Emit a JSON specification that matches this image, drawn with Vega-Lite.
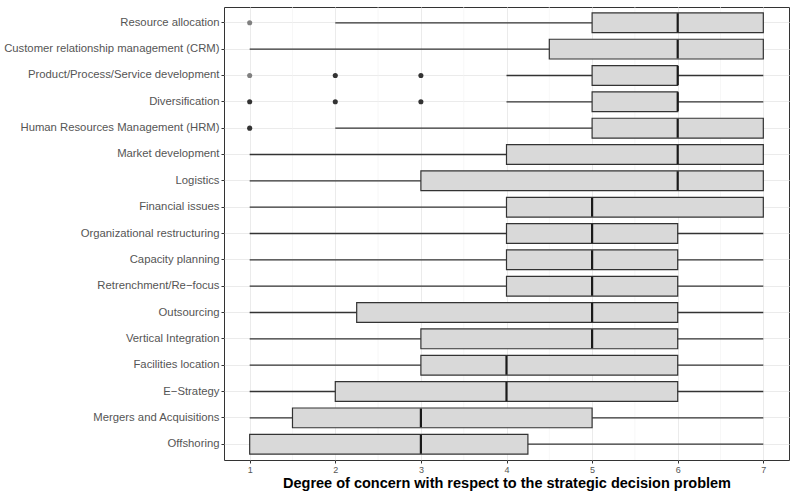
{
  "$schema": "https://vega.github.io/schema/vega-lite/v6.json",
  "width": 565,
  "height": 453,
  "autosize": {"type": "none"},
  "padding": {"left": 224, "top": 7, "right": 3, "bottom": 31},
  "background": "white",
  "config": {
    "font": "Liberation Sans",
    "view": {"stroke": "#333333", "strokeWidth": 1}
  },
  "datasets": {
    "boxes": [
      {"item": "Resource allocation", "lo": 2, "q1": 5, "med": 6, "q3": 7, "hi": 7},
      {"item": "Customer relationship management (CRM)", "lo": 1, "q1": 4.5, "med": 6, "q3": 7, "hi": 7},
      {"item": "Product/Process/Service development", "lo": 4, "q1": 5, "med": 6, "q3": 6, "hi": 7},
      {"item": "Diversification", "lo": 4, "q1": 5, "med": 6, "q3": 6, "hi": 7},
      {"item": "Human Resources Management (HRM)", "lo": 2, "q1": 5, "med": 6, "q3": 7, "hi": 7},
      {"item": "Market development", "lo": 1, "q1": 4, "med": 6, "q3": 7, "hi": 7},
      {"item": "Logistics", "lo": 1, "q1": 3, "med": 6, "q3": 7, "hi": 7},
      {"item": "Financial issues", "lo": 1, "q1": 4, "med": 5, "q3": 7, "hi": 7},
      {"item": "Organizational restructuring", "lo": 1, "q1": 4, "med": 5, "q3": 6, "hi": 7},
      {"item": "Capacity planning", "lo": 1, "q1": 4, "med": 5, "q3": 6, "hi": 7},
      {"item": "Retrenchment/Re−focus", "lo": 1, "q1": 4, "med": 5, "q3": 6, "hi": 7},
      {"item": "Outsourcing", "lo": 1, "q1": 2.25, "med": 5, "q3": 6, "hi": 7},
      {"item": "Vertical Integration", "lo": 1, "q1": 3, "med": 5, "q3": 6, "hi": 7},
      {"item": "Facilities location", "lo": 1, "q1": 3, "med": 4, "q3": 6, "hi": 7},
      {"item": "E−Strategy", "lo": 1, "q1": 2, "med": 4, "q3": 6, "hi": 7},
      {"item": "Mergers and Acquisitions", "lo": 1, "q1": 1.5, "med": 3, "q3": 5, "hi": 7},
      {"item": "Offshoring", "lo": 1, "q1": 1, "med": 3, "q3": 4.25, "hi": 7}
    ],
    "outliers": [
      {"item": "Resource allocation", "value": 1, "count": 1},
      {"item": "Product/Process/Service development", "value": 1, "count": 1},
      {"item": "Product/Process/Service development", "value": 2, "count": 2},
      {"item": "Product/Process/Service development", "value": 3, "count": 2},
      {"item": "Diversification", "value": 1, "count": 2},
      {"item": "Diversification", "value": 2, "count": 2},
      {"item": "Diversification", "value": 3, "count": 2},
      {"item": "Human Resources Management (HRM)", "value": 1, "count": 2}
    ]
  },
  "encoding": {
    "y": {
      "field": "item",
      "type": "nominal",
      "sort": null,
      "scale": {
        "domain": ["Resource allocation", "Customer relationship management (CRM)", "Product/Process/Service development", "Diversification", "Human Resources Management (HRM)", "Market development", "Logistics", "Financial issues", "Organizational restructuring", "Capacity planning", "Retrenchment/Re−focus", "Outsourcing", "Vertical Integration", "Facilities location", "E−Strategy", "Mergers and Acquisitions", "Offshoring"],
        "paddingInner": 0,
        "paddingOuter": 0.1
      },
      "axis": {
        "title": null,
        "domain": false,
        "ticks": true,
        "tickColor": "#333333",
        "tickSize": 3,
        "labelFontSize": 11.3,
        "labelColor": "#555555",
        "labelPadding": 2,
        "labelLimit": 0,
        "grid": true,
        "gridColor": "#EBEBEB",
        "gridWidth": 1
      }
    }
  },
  "layer": [
    {
      "data": {"values": [{"v": 1.5}, {"v": 2.5}, {"v": 3.5}, {"v": 4.5}, {"v": 5.5}, {"v": 6.5}]},
      "mark": {"type": "rule", "color": "#F2F2F2", "strokeWidth": 0.6},
      "encoding": {
        "x": {"field": "v", "type": "quantitative", "scale": {"domain": [0.7, 7.3]}},
        "y": null
      }
    },
    {
      "data": {"name": "boxes"},
      "mark": {"type": "rule", "color": "#333333", "strokeWidth": 1.3},
      "encoding": {
        "x": {
          "field": "lo",
          "type": "quantitative",
          "scale": {"domain": [0.7, 7.3], "nice": false, "zero": false},
          "axis": {
            "values": [1, 2, 3, 4, 5, 6, 7],
            "format": "d",
            "title": "Degree of concern with respect to the strategic decision problem",
            "titleFontSize": 14.5,
            "titleFontWeight": "bold",
            "titleColor": "#000000",
            "titlePadding": 2,
            "domain": false,
            "tickColor": "#333333",
            "tickSize": 3,
            "labelFontSize": 9,
            "labelColor": "#555555",
            "labelPadding": 2,
            "grid": true,
            "gridColor": "#EBEBEB",
            "gridWidth": 1
          }
        },
        "x2": {"field": "hi"}
      }
    },
    {
      "data": {"name": "boxes"},
      "mark": {"type": "bar", "fill": "#D9D9D9", "stroke": "#333333", "strokeWidth": 1.2, "height": {"band": 0.75}},
      "encoding": {
        "x": {"field": "q1", "type": "quantitative"},
        "x2": {"field": "q3"}
      }
    },
    {
      "data": {"name": "boxes"},
      "mark": {"type": "bar", "fill": "#1A1A1A", "stroke": "#1A1A1A", "strokeWidth": 2.2, "height": {"band": 0.72}},
      "encoding": {
        "x": {"field": "med", "type": "quantitative"},
        "x2": {"field": "med"}
      }
    },
    {
      "data": {"name": "outliers"},
      "mark": {"type": "circle", "size": 26, "opacity": 1},
      "encoding": {
        "x": {"field": "value", "type": "quantitative"},
        "color": {
          "field": "count",
          "type": "ordinal",
          "scale": {"domain": [1, 2], "range": ["#808080", "#333333"]},
          "legend": null
        }
      }
    }
  ]
}
